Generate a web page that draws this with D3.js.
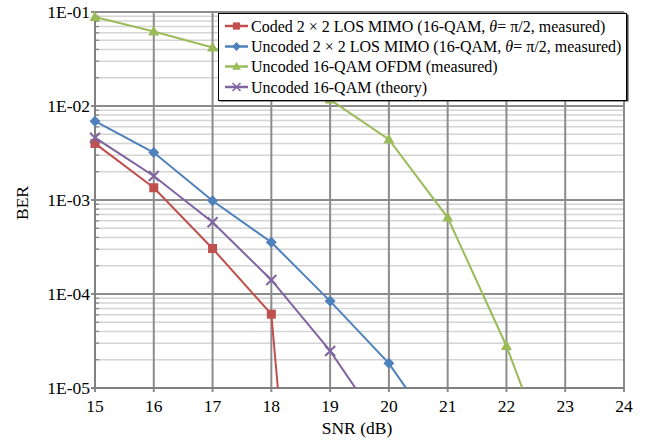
<!DOCTYPE html>
<html><head><meta charset="utf-8">
<script src="https://cdn.jsdelivr.net/npm/d3@7"></script>
<style>
html,body{margin:0;padding:0;background:#fff;}
svg{display:block;}
</style></head>
<body><svg id="c" width="649" height="443" font-family="'Liberation Serif', 'Times New Roman', Times, 'DejaVu Serif', serif"></svg>
<script>
const snr = [15, 16, 17, 18, 19, 20, 21, 22, 23];
const codedMimo   = [4.0e-3, 1.35e-3, 3.05e-4, 6.1e-5, 5e-12];
const uncodedMimo = [6.9e-3, 3.2e-3, 9.8e-4, 3.55e-4, 8.4e-5, 1.83e-5, 2.3e-6];
const ofdm        = [8.85e-2, 6.2e-2, 4.2e-2, 2.4e-2, 1.17e-2, 4.4e-3, 6.5e-4, 2.8e-5, 6.1e-7];
const theory      = [4.6e-3, 1.8e-3, 5.8e-4, 1.41e-4, 2.48e-5, 3.0e-6];
const xTicks = [15, 16, 17, 18, 19, 20, 21, 22, 23, 24];
const yTicks = [1e-5, 1e-4, 1e-3, 1e-2, 1e-1];
const yTickLabels = ["1E-05", "1E-04", "1E-03", "1E-02", "1E-01"];
const seriesNames = [
  "Coded 2 × 2 LOS MIMO (16-QAM, θ= π/2, measured)",
  "Uncoded 2 × 2 LOS MIMO (16-QAM, θ= π/2, measured)",
  "Uncoded 16-QAM OFDM (measured)",
  "Uncoded 16-QAM (theory)"
];
const seriesColors = ["#C0504D", "#4F81BD", "#9BBB59", "#8064A2"];
const seriesMarkers = ["square", "diamond", "triangle", "x"];
const seriesValues = [codedMimo, uncodedMimo, ofdm, theory];

const svg = d3.select("#c");
const L = 95, R = 624, T = 12, B = 388;
const x = d3.scaleLinear().domain([15, 24]).range([L, R]);
const y = d3.scaleLog().domain([1e-5, 1e-1]).range([B, T]);

const minor = [];
for (let e = -5; e < -1; e++) for (let m = 2; m <= 9; m++) minor.push(m * Math.pow(10, e));
svg.append("g").selectAll("line").data(minor).join("line")
  .attr("x1", L).attr("x2", R).attr("y1", d => y(d)).attr("y2", d => y(d))
  .attr("stroke", "#d4d4d4").attr("stroke-width", 1.5);
svg.append("g").selectAll("line").data(minor).join("line")
  .attr("x1", L).attr("x2", L + 4).attr("y1", d => y(d)).attr("y2", d => y(d))
  .attr("stroke", "#808080").attr("stroke-width", 1.2);
svg.append("g").selectAll("line").data(yTicks).join("line")
  .attr("x1", L - 4).attr("x2", R).attr("y1", d => y(d)).attr("y2", d => y(d))
  .attr("stroke", "#8c8c8c").attr("stroke-width", 2);
svg.append("g").selectAll("line").data(xTicks).join("line")
  .attr("x1", d => x(d)).attr("x2", d => x(d)).attr("y1", T).attr("y2", B + 4)
  .attr("stroke", "#8c8c8c").attr("stroke-width", 2);
svg.append("line").attr("x1", L).attr("x2", L).attr("y1", T).attr("y2", B).attr("stroke", "#808080").attr("stroke-width", 2);
svg.append("line").attr("x1", L - 4).attr("x2", R).attr("y1", B).attr("y2", B).attr("stroke", "#808080").attr("stroke-width", 2);

svg.append("g").selectAll("text").data(yTicks).join("text")
  .attr("x", L - 5).attr("y", d => y(d) + 6).attr("text-anchor", "end")
  .attr("font-size", 17.5).attr("fill", "#000").text((d, i) => yTickLabels[i]);
svg.append("g").selectAll("text").data(xTicks).join("text")
  .attr("x", d => x(d)).attr("y", 412).attr("text-anchor", "middle")
  .attr("font-size", 17.5).attr("fill", "#000").text(d => d);
svg.append("text").attr("x", 357).attr("y", 434).attr("text-anchor", "middle")
  .attr("font-size", 17.5).text("SNR (dB)");
svg.append("text").attr("transform", `translate(28,${(T + B) / 2 + 3}) rotate(-90)`)
  .attr("text-anchor", "middle").attr("font-size", 17.5).text("BER");

svg.append("clipPath").attr("id", "clip").append("rect")
  .attr("x", L).attr("y", 0).attr("width", R - L + 20).attr("height", B);

function marker(g, type, color) {
  if (type === "square") g.append("rect").attr("x", -4.5).attr("y", -4.5).attr("width", 9).attr("height", 9).attr("fill", color);
  else if (type === "diamond") g.append("path").attr("d", "M0,-5.5L5.5,0L0,5.5L-5.5,0Z").attr("fill", color);
  else if (type === "triangle") g.append("path").attr("d", "M0,-6L5.5,4L-5.5,4Z").attr("fill", color);
  else g.append("path").attr("d", "M-5,-5L5,5M-5,5L5,-5").attr("stroke", color).attr("stroke-width", 2);
}

const line = d3.line().x(d => x(d[0])).y(d => y(d[1]));
seriesValues.forEach((vals, i) => {
  const pts = vals.map((v, j) => [snr[j], v]);
  svg.append("path").attr("d", line(pts)).attr("fill", "none")
    .attr("stroke", seriesColors[i]).attr("stroke-width", 2).attr("clip-path", "url(#clip)");
  pts.filter(p => p[1] >= 1e-5).forEach(p => {
    const g = svg.append("g").attr("transform", `translate(${x(p[0])},${y(p[1])})`);
    marker(g, seriesMarkers[i], seriesColors[i]);
  });
});

const lg = svg.append("g");
lg.append("rect").attr("x", 219.5).attr("y", 14.5).attr("width", 409).attr("height", 87).attr("fill", "#404040");
lg.append("rect").attr("x", 218.5).attr("y", 13.5).attr("width", 408).attr("height", 87)
  .attr("fill", "#fff").attr("stroke", "#000").attr("stroke-width", 1);
const rowY = [26, 46.5, 66.5, 87];
seriesNames.forEach((name, i) => {
  lg.append("line").attr("x1", 225).attr("x2", 248).attr("y1", rowY[i]).attr("y2", rowY[i])
    .attr("stroke", seriesColors[i]).attr("stroke-width", 2.5);
  const g = lg.append("g").attr("transform", `translate(236.5,${rowY[i]}) scale(0.8)`);
  marker(g, seriesMarkers[i], seriesColors[i]);
  const t = lg.append("text").attr("x", 251).attr("y", rowY[i] + 5.5).attr("font-size", 16).attr("fill", "#000");
  const parts = name.split("θ");
  if (parts.length > 1) {
    t.append("tspan").text(parts[0]);
    t.append("tspan").attr("font-style", "italic").text("θ");
    t.append("tspan").text(parts[1]);
  } else t.text(name);
});
</script></body></html>
